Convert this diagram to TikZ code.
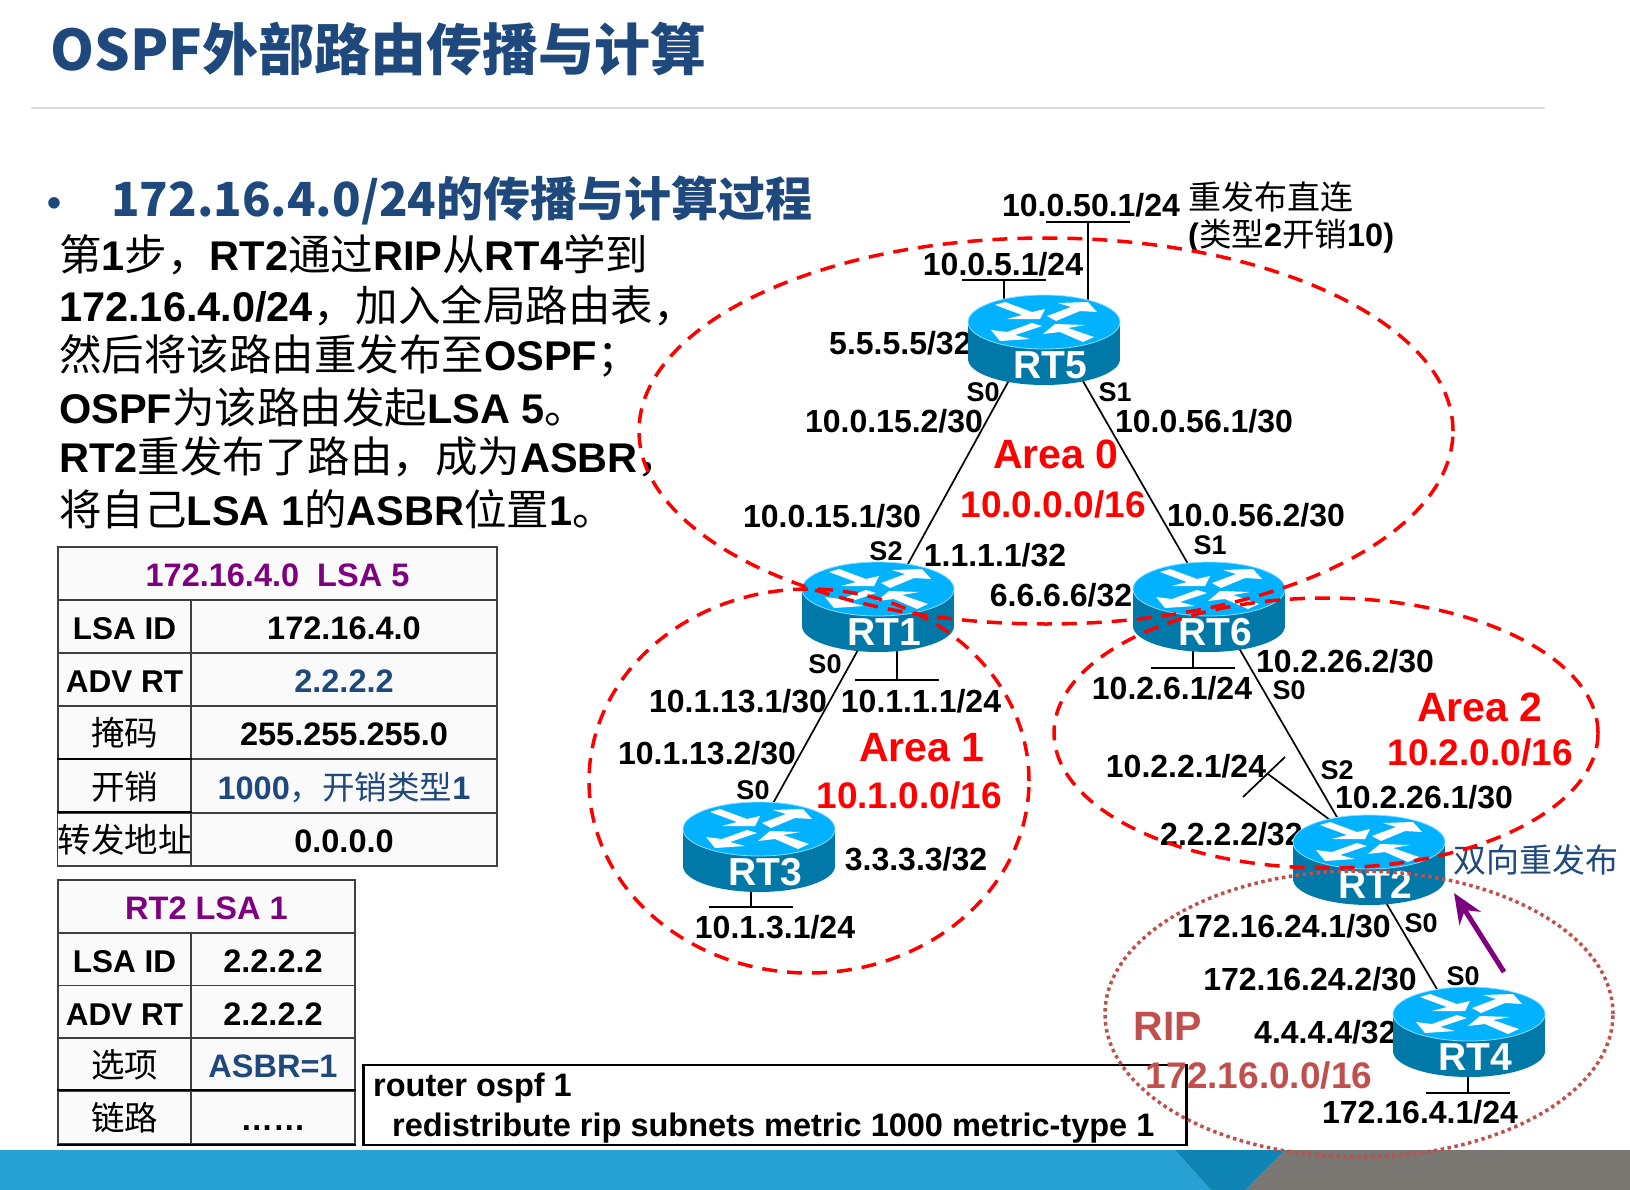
\documentclass[tikz,border=0pt]{standalone}
\usepackage{fontspec}
\usepackage{tikz}
\usetikzlibrary{shapes.geometric,arrows.meta}
\setmainfont{Liberation Sans}
\newfontfamily\cjk{Noto Sans CJK SC}
\newcommand{\zh}[1]{{\cjk\mdseries #1}}
\newcommand{\bz}[1]{{\cjk\mdseries\fontsize{42.5}{46}\selectfont #1}}
\newcommand{\px}[1]{\fontsize{#1}{#1}\selectfont}
\definecolor{titleblue}{HTML}{1F497D}
\definecolor{lsapurple}{HTML}{7F007F}
\definecolor{ripred}{HTML}{C0504D}
\definecolor{routertop}{HTML}{00B2FF}
\definecolor{routerside}{HTML}{0079A8}
\definecolor{routeredge}{HTML}{8FDCFF}
\definecolor{bandblue}{HTML}{27A0D4}
\definecolor{banddark}{HTML}{0E84B4}
\definecolor{bandgrey}{HTML}{7A7671}
\definecolor{cellfill}{HTML}{FAFAFA}
\definecolor{cellline}{HTML}{404040}
\begin{document}
\begin{tikzpicture}[
        x=1pt, y=-1pt,
        ip/.style={inner sep=0pt, font=\px{32}\bfseries},
        port/.style={inner sep=0pt, font=\px{27}\bfseries},
        bodyline/.style={anchor=west, inner sep=0pt, font=\px{41.5}\bfseries},
        areaname/.style={inner sep=0pt, text=red, font=\px{41}\bfseries},
        areanet/.style={inner sep=0pt, text=red, font=\px{37}\bfseries},
        ripname/.style={inner sep=0pt, text=ripred, font=\px{#1}\bfseries},
        area/.style={ellipse, draw=red, line width=3.5pt, dash pattern=on 15pt off 10pt,
            inner sep=0pt},
        routerbox/.style={ellipse, minimum width=152pt, minimum height=90pt, inner sep=0pt},
        wire/.style={line width=1.7pt},
        cell/.style={draw=cellline, fill=cellfill, line width=1.3pt, inner sep=0pt,
            minimum height=53pt, text height=26pt, text depth=0pt, font=\px{32.5}\bfseries},
        keycell/.style={cell, minimum width=133pt, font=\px{31.5}\bfseries},
        zhcell/.style={cell, minimum width=133pt, font=\cjk\px{33.5}\mdseries},
        heavyline/.style={line width=1.8pt},
        pics/router/.style={code={
            \fill[routerside] (0,19) ellipse [x radius=76pt, y radius=26pt];
            \fill[routerside] (-76,-18) rectangle (76,19);
            \fill[routertop, draw=routeredge, line width=0.8pt] (0,-18) ellipse [x radius=76pt, y radius=27pt];
            \fill[white] (-49,-35) -- (-39,-38) -- (-12,-28) -- (1,-31) -- (-4,-21)
                -- (-37,-21) -- (-22,-25) -- cycle;
            \fill[white] (3,-24) -- (27,-33) -- (14,-37) -- (44,-38) -- (53,-28)
                -- (36,-29) -- (12,-19) -- cycle;
            \fill[white] (-12,-17) -- (-2,-14) -- (-29,-5) -- (-14,-1) -- (-44,1)
                -- (-53,-10) -- (-37,-8) -- cycle;
            \fill[white] (50,-3) -- (39,2) -- (16,-8) -- (-1,-6) -- (11,-16)
                -- (41,-15) -- (24,-12) -- cycle;
            \node[inner sep=0pt, text=white, font=\px{39}\bfseries] (-label) at (6,25) {#1};
        }}
    ]
    \useasboundingbox (0,0) rectangle (1630,1190);

    % footer band
    \fill[bandblue] (0,1150) -- (1175,1150) -- (1211,1190) -- (0,1190) -- cycle;
    \fill[bandgrey] (1285,1150) -- (1630,1150) -- (1630,1190) -- (1245,1190) -- cycle;
    \fill[banddark] (1175,1150) -- (1285,1150) -- (1245,1190) -- (1211,1190) -- cycle;

    % heading and text
    \node[anchor=west, inner sep=0pt, text=titleblue, font=\cjk\px{56}\bfseries] (title) at (50,49)
        {OSPF外部路由传播与计算};
    \coordinate (ruleleft) at (31,108);
    \coordinate (ruleright) at (1545,108);
    \draw[black!15, line width=2.5pt] (ruleleft) -- (ruleright);
    \node[inner sep=0pt, text=titleblue, font=\px{40}\bfseries] (bullet) at (55,207) {•};
    \node[anchor=west, inner sep=0pt, text=titleblue, font=\cjk\px{47}\bfseries] (subtitle) at (111,200)
        {172.16.4.0/24的传播与计算过程};

    \node[bodyline] (step1) at (59,255) {\bz{第}1\bz{步，}RT2\bz{通过}RIP\bz{从}RT4\bz{学到}};
    \node[bodyline] (step2) at (59,306) {172.16.4.0/24\bz{，加入全局路由表，}};
    \node[bodyline] (step3) at (59,356) {\bz{然后将该路由重发布至}OSPF\bz{；}};
    \node[bodyline] (step4) at (59,407) {OSPF\bz{为该路由发起}LSA 5\bz{。}};
    \node[bodyline] (step5) at (59,457) {RT2\bz{重发布了路由，成为}ASBR\bz{，}};
    \node[bodyline] (step6) at (59,509) {\bz{将自己}LSA 1\bz{的}ASBR\bz{位置}1\bz{。}};

    % LSA 5 table
    \node[cell, minimum width=439pt, text=lsapurple] (t1head) at (277.5,573.5) {172.16.4.0\ \ LSA 5};
    \node[keycell] (t1k1) at (124.5,626.5) {LSA ID};
    \node[keycell] (t1k2) at (124.5,679.5) {ADV RT};
    \node[zhcell] (t1k3) at (124.5,732.5) {掩码};
    \node[zhcell] (t1k4) at (124.5,786) {开销};
    \node[zhcell] (t1k5) at (124.5,839.5) {转发地址};
    \node[cell, minimum width=306pt] (t1v1) at (344,626.5) {172.16.4.0};
    \node[cell, minimum width=306pt, text=titleblue] (t1v2) at (344,679.5) {2.2.2.2};
    \node[cell, minimum width=306pt] (t1v3) at (344,732.5) {255.255.255.0};
    \node[cell, minimum width=306pt, text=titleblue] (t1v4) at (344,786) {1000\zh{，开销类型}1};
    \node[cell, minimum width=306pt] (t1v5) at (344,839.5) {0.0.0.0};
    \draw[heavyline] (t1k4.north west) -- (t1k4.north east);
    \draw[heavyline] (t1k5.north west) -- (t1k5.north east);

    % LSA 1 table
    \node[cell, minimum width=297pt, text=lsapurple] (t2head) at (206.5,906.5) {RT2 LSA 1};
    \node[keycell] (t2k1) at (124.5,959.5) {LSA ID};
    \node[keycell] (t2k2) at (124.5,1012) {ADV RT};
    \node[zhcell] (t2k3) at (124.5,1064.5) {选项};
    \node[zhcell] (t2k4) at (124.5,1117.5) {链路};
    \node[cell, minimum width=164pt] (t2v1) at (273,959.5) {2.2.2.2};
    \node[cell, minimum width=164pt] (t2v2) at (273,1012) {2.2.2.2};
    \node[cell, minimum width=164pt, text=titleblue] (t2v3) at (273,1064.5) {ASBR=1};
    \node[cell, minimum width=164pt] (t2v4) at (273,1117.5) {……};
    \draw[heavyline] (t2k4.north west) -- (t2v4.north east);
    \draw[heavyline] (t2k4.south west) -- (t2v4.south east);

    % config box
    \node[draw, line width=2.5pt, minimum width=823pt, minimum height=80pt, inner sep=0pt] (cmd) at (775,1105) {};
    \node[anchor=west, inner sep=0pt, font=\px{32.5}\bfseries] (cmd1) at (373,1088) {router ospf 1};
    \node[anchor=west, inner sep=0pt, font=\px{32.5}\bfseries] (cmd2) at (392,1128)
        {redistribute rip subnets metric 1000 metric-type 1};

    % routers
    \node[routerbox] (rt5) at (1044,340) {};
    \node[routerbox] (rt1) at (878,607) {};
    \node[routerbox] (rt6) at (1209,607) {};
    \node[routerbox] (rt3) at (759,847) {};
    \node[routerbox] (rt2) at (1369,860) {};
    \node[routerbox] (rt4) at (1469,1032) {};

    % links
    \draw[wire] (rt5.229) -- (rt1.55);
    \draw[wire] (rt5.314) -- (rt6.116);
    \draw[wire] (rt1.245) -- (rt3.72);
    \draw[wire] (rt6.306) -- (rt2.127);
    \draw[wire] (rt2.292) -- (rt4.127);

    % stub networks
    \coordinate (lan5a) at (1004,280);
    \coordinate (lan5b) at (1088,222);
    \coordinate (lan1) at (897,680);
    \coordinate (lan6) at (1193,668);
    \coordinate (lan3) at (751,907);
    \coordinate (lan4) at (1468,1093);
    \foreach \n/\r in {lan5a/rt5,lan5b/rt5,lan1/rt1,lan6/rt6,lan3/rt3,lan4/rt4} {
        \draw[wire] (\n |- \r) -- (\n);
        \draw[wire] ([xshift=-42pt]\n) -- ([xshift=42pt]\n);
    }
    \coordinate (lan2) at (1268,774);
    \coordinate (lan2a) at (1285,757);
    \coordinate (lan2b) at (1243,797);
    \draw[wire] (rt2.134) -- (lan2);
    \draw[wire] (lan2a) -- (lan2b);

    % addresses
    \node[ip] (a50) at (1091,205) {10.0.50.1/24};
    \node[ip] (a5) at (1003,264) {10.0.5.1/24};
    \node[ip, anchor=west] (lo5) at (829,343) {5.5.5.5/32};
    \node[ip] (a152) at (894,421) {10.0.15.2/30};
    \node[ip] (a561) at (1204,421) {10.0.56.1/30};
    \node[ip] (a151) at (832,516) {10.0.15.1/30};
    \node[ip] (a562) at (1256,515) {10.0.56.2/30};
    \node[ip] (lo1) at (995,555) {1.1.1.1/32};
    \node[ip] (lo6) at (1061,595) {6.6.6.6/32};
    \node[ip] (a262) at (1345,661) {10.2.26.2/30};
    \node[ip] (a131) at (738,701) {10.1.13.1/30};
    \node[ip] (a11) at (921,701) {10.1.1.1/24};
    \node[ip] (a6) at (1172,688) {10.2.6.1/24};
    \node[ip] (a132) at (707,753) {10.1.13.2/30};
    \node[ip] (a2) at (1186,766) {10.2.2.1/24};
    \node[ip] (a261) at (1424,797) {10.2.26.1/30};
    \node[ip] (lo3) at (916,859) {3.3.3.3/32};
    \node[ip] (a3) at (775,927) {10.1.3.1/24};
    \node[ip, anchor=west] (lo2) at (1160,834) {2.2.2.2/32};
    \node[ip] (a241) at (1284,926) {172.16.24.1/30};
    \node[ip] (a242) at (1310,979) {172.16.24.2/30};
    \node[ip, anchor=west] (lo4) at (1254,1032) {4.4.4.4/32};
    \node[ip] (a4) at (1420,1112) {172.16.4.1/24};

    % ports
    \node[port] (p50) at (983,392) {S0};
    \node[port] (p51) at (1115,392) {S1};
    \node[port] (p12) at (886,551) {S2};
    \node[port] (p61) at (1210,545) {S1};
    \node[port] (p10) at (825,664) {S0};
    \node[port] (p60) at (1289,690) {S0};
    \node[port] (p30) at (753,790) {S0};
    \node[port] (p22) at (1337,770) {S2};
    \node[port] (p20) at (1421,923) {S0};
    \node[port] (p40) at (1463,976) {S0};

    % notes
    \node[anchor=west, inner sep=0pt, font=\cjk\px{33}] (note1) at (1188,197) {重发布直连};
    \node[anchor=west, inner sep=0pt, font=\px{32.5}\bfseries] (note2) at (1188,236) {(\zh{类型}2\zh{开销}10)};
    \node[inner sep=0pt, text=titleblue, font=\cjk\px{33}] (note3) at (1536,860) {双向重发布};

    % area names
    \node[areaname] (n0) at (1056,454) {Area 0};
    \node[areanet] (m0) at (1053,504) {10.0.0.0/16};
    \node[areaname] (n1) at (922,748) {Area 1};
    \node[areanet] (m1) at (909,795) {10.1.0.0/16};
    \node[areaname] (n2) at (1480,707) {Area 2};
    \node[areanet] (m2) at (1480,752) {10.2.0.0/16};
    \node[ripname=41] (n3) at (1168,1026) {RIP};
    \node[ripname=37] (m3) at (1259,1075) {172.16.0.0/16};

    % router bodies sit over their labels and links
    \foreach \r/\t in {rt5/RT5,rt1/RT1,rt6/RT6,rt3/RT3,rt2/RT2,rt4/RT4} {
        \pic (\r b) at (\r) {router=\t};
    }

    % areas
    \node[area, minimum width=814pt, minimum height=386pt] (area0) at (1046,431) {};
    \node[area, minimum width=440pt, minimum height=384pt] (area1) at (809,781) {};
    \node[area, minimum width=544pt, minimum height=270pt] (area2) at (1326,733) {};
    \node[ellipse, draw=ripred, line width=3.5pt, dash pattern=on 3.5pt off 3.5pt, inner sep=0pt,
        minimum width=508pt, minimum height=286pt] (ripzone) at (1359,1014) {};

    % redistribution arrow
    \coordinate (redisttail) at (1504,972);
    \coordinate (redisthead) at (1454,893);
    \draw[lsapurple, line width=5pt, -{Stealth[length=30pt,width=25pt]}] (redisttail) -- (redisthead);
\end{tikzpicture}
\end{document}
